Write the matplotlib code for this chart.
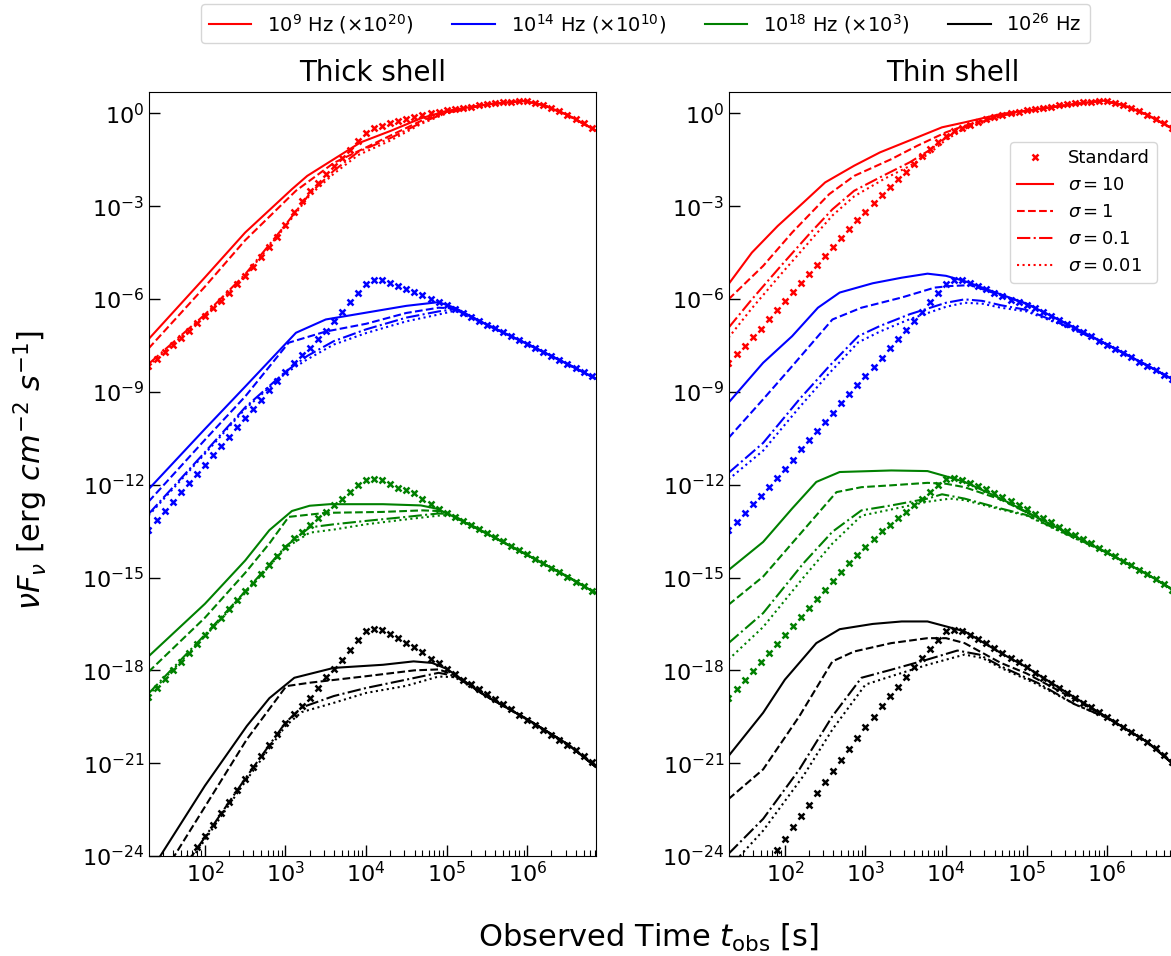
import numpy as np
import matplotlib
matplotlib.use("Agg")
import matplotlib.pyplot as plt
from matplotlib.lines import Line2D
from matplotlib.ticker import NullLocator, LogLocator

# ---------------- data (log10 values) ----------------
# time grid of the "Standard" simulation outputs (log10 t [s])
T_STD = [1.3, 1.4, 1.5, 1.6, 1.7, 1.8, 1.9, 2.0, 2.1, 2.2,
         2.3, 2.4, 2.5, 2.6, 2.7, 2.8, 2.9, 3.0, 3.1, 3.2,
         3.3, 3.4, 3.5, 3.6, 3.7, 3.8, 3.9, 4.0, 4.1, 4.2,
         4.3, 4.4, 4.5, 4.6, 4.7, 4.8, 4.9, 5.0, 5.1, 5.2,
         5.3, 5.4, 5.5, 5.6, 5.7, 5.8, 5.9, 6.0, 6.1, 6.2,
         6.3, 6.4, 6.5, 6.6, 6.7, 6.8]

# ---- Thick shell, standard (log10 nuFnu, scaled) ----
thick_red_std = [-8.15, -7.93, -7.70, -7.48, -7.26, -7.02, -6.78, -6.54, -6.30, -6.05,
                 -5.79, -5.52, -5.24, -4.95, -4.65, -4.33, -3.98, -3.60, -3.18, -2.82,
                 -2.52, -2.24, -1.96, -1.70, -1.45, -1.18, -0.90, -0.62, -0.48, -0.40,
                 -0.32, -0.24, -0.18, -0.12, -0.06, 0.00, 0.05, 0.10, 0.14, 0.18,
                 0.22, 0.26, 0.30, 0.33, 0.36, 0.38, 0.40, 0.39, 0.34, 0.27,
                 0.18, 0.07, -0.05, -0.18, -0.32, -0.48]
thick_blue_std = [-13.45, -13.15, -12.85, -12.55, -12.25, -11.95, -11.65, -11.35, -11.05, -10.75,
                  -10.45, -10.15, -9.85, -9.55, -9.25, -8.95, -8.65, -8.35, -8.08, -7.82,
                  -7.58, -7.30, -7.02, -6.70, -6.42, -6.08, -5.80, -5.50, -5.40, -5.40,
                  -5.48, -5.58, -5.68, -5.76, -5.87, -6.00, -6.08, -6.20, -6.32, -6.45,
                  -6.58, -6.70, -6.83, -6.95, -7.08, -7.20, -7.33, -7.45, -7.58, -7.71,
                  -7.84, -7.97, -8.10, -8.23, -8.36, -8.50]
thick_green_std = [-18.85, -18.57, -18.29, -18.00, -17.72, -17.44, -17.15, -16.87, -16.58, -16.30,
                   -16.02, -15.73, -15.45, -15.17, -14.88, -14.60, -14.30, -14.00, -13.73, -13.52,
                   -13.31, -13.09, -12.88, -12.67, -12.45, -12.24, -12.02, -11.86, -11.81, -11.86,
                   -11.97, -12.10, -12.18, -12.27, -12.45, -12.61, -12.77, -12.90, -13.03, -13.16,
                   -13.29, -13.42, -13.55, -13.69, -13.83, -13.97, -14.11, -14.25, -14.39, -14.53,
                   -14.68, -14.82, -14.97, -15.13, -15.29, -15.45]
thick_black_std = [-26.0, -25.6, -25.2, -24.8, -24.4, -24.05, -23.7, -23.35, -23.0, -22.62,
                   -22.25, -21.88, -21.5, -21.13, -20.77, -20.41, -20.05, -19.7, -19.4, -19.16,
                   -18.9, -18.56, -18.22, -17.95, -17.65, -17.34, -17.02, -16.74, -16.66, -16.69,
                   -16.83, -16.96, -17.1, -17.23, -17.42, -17.62, -17.76, -17.95, -18.12, -18.3,
                   -18.45, -18.6, -18.75, -18.92, -19.09, -19.26, -19.43, -19.6, -19.76, -19.92,
                   -20.08, -20.24, -20.4, -20.58, -20.76, -20.95]

# ---- Thin shell, standard ----
thin_red_std = [-8.06, -7.79, -7.52, -7.22, -6.96, -6.66, -6.35, -6.06, -5.77, -5.49,
                -5.20, -4.90, -4.61, -4.31, -4.02, -3.74, -3.45, -3.18, -2.90, -2.64,
                -2.37, -2.13, -1.88, -1.64, -1.39, -1.15, -0.94, -0.72, -0.58, -0.46,
                -0.36, -0.27, -0.19, -0.12, -0.05, 0.01, 0.06, 0.10, 0.14, 0.18,
                0.22, 0.26, 0.30, 0.33, 0.36, 0.38, 0.40, 0.39, 0.34, 0.27,
                0.18, 0.07, -0.05, -0.18, -0.32, -0.48]
thin_blue_std = [-13.47, -13.20, -12.93, -12.63, -12.36, -12.08, -11.77, -11.49, -11.20, -10.86,
                 -10.57, -10.27, -9.98, -9.68, -9.37, -9.08, -8.79, -8.49, -8.19, -7.90,
                 -7.59, -7.30, -7.00, -6.70, -6.41, -6.09, -5.79, -5.51, -5.38, -5.39,
                 -5.47, -5.58, -5.69, -5.79, -5.90, -6.02, -6.10, -6.18, -6.30, -6.43,
                 -6.56, -6.69, -6.82, -6.95, -7.08, -7.21, -7.34, -7.47, -7.60, -7.74,
                 -7.88, -8.02, -8.16, -8.30, -8.45, -8.60]
thin_green_std = [-18.89, -18.60, -18.30, -18.01, -17.73, -17.44, -17.16, -16.87, -16.58, -16.29,
                  -15.98, -15.70, -15.40, -15.11, -14.82, -14.54, -14.27, -14.01, -13.74, -13.50,
                  -13.31, -13.09, -12.88, -12.67, -12.45, -12.24, -12.02, -11.83, -11.79, -11.84,
                  -11.94, -12.05, -12.15, -12.26, -12.40, -12.53, -12.66, -12.80, -12.94, -13.08,
                  -13.22, -13.36, -13.50, -13.64, -13.77, -13.90, -14.03, -14.16, -14.30, -14.45,
                  -14.60, -14.75, -14.90, -15.05, -15.22, -15.40]
thin_black_std = [-26.0, -25.6, -25.2, -24.85, -24.5, -24.18, -23.82, -23.45, -23.07, -22.7,
                  -22.35, -21.98, -21.6, -21.25, -20.89, -20.53, -20.19, -19.83, -19.5, -19.16,
                  -18.83, -18.53, -18.22, -17.89, -17.6, -17.3, -17.01, -16.72, -16.69, -16.74,
                  -16.85, -16.98, -17.12, -17.28, -17.45, -17.6, -17.74, -17.9, -18.07, -18.24,
                  -18.4, -18.56, -18.72, -18.88, -19.04, -19.2, -19.36, -19.52, -19.67, -19.82,
                  -19.98, -20.14, -20.32, -20.52, -20.72, -20.95]

# ---- Thick shell, magnetized runs: (log10 t, log10 nuFnu) ----
thick_red_s10 = [(1.3, -7.3), (2.0, -5.3), (2.5, -3.85), (3.08, -2.45), (3.27, -2.02), (3.6, -1.48),
                 (3.93, -0.94), (4.31, -0.56), (4.68, -0.16), (5.0, 0.08), (5.5, 0.29), (5.95, 0.40),
                 (6.2, 0.27), (6.5, -0.05), (6.85, -0.55)]
thick_red_s1 = [(1.3, -7.6), (2.0, -5.6), (2.5, -4.1), (3.13, -2.5), (3.6, -1.6), (4.0, -1.1),
                (4.3, -0.72), (4.7, -0.22), (5.0, 0.05), (5.5, 0.29), (5.95, 0.40), (6.2, 0.27),
                (6.5, -0.05), (6.85, -0.55)]
thick_red_s01 = [(1.3, -8.1), (2.0, -6.5), (2.5, -5.2), (3.0, -3.6), (3.3, -2.6), (3.6, -1.85),
                 (3.9, -1.25), (4.3, -0.8), (4.7, -0.28), (5.0, 0.02), (5.5, 0.29), (5.95, 0.40),
                 (6.2, 0.27), (6.5, -0.05), (6.85, -0.55)]
thick_red_s001 = [(1.3, -8.15), (2.0, -6.55), (2.5, -5.25), (3.0, -3.65), (3.3, -2.65), (3.6, -1.95),
                  (3.9, -1.35), (4.3, -0.88), (4.7, -0.32), (5.0, 0.0), (5.5, 0.29), (5.95, 0.40),
                  (6.2, 0.27), (6.5, -0.05), (6.85, -0.55)]

thick_blue_s10 = [(1.3, -12.15), (2.0, -10.2), (2.5, -8.83), (3.13, -7.09), (3.5, -6.66), (4.0, -6.44),
                  (4.5, -6.22), (4.9, -6.1), (5.1, -6.28), (5.5, -6.83), (6.0, -7.45), (6.5, -8.1),
                  (6.85, -8.57)]
thick_blue_s1 = [(1.3, -12.55), (2.0, -10.55), (2.5, -9.15), (3.04, -7.41), (3.5, -7.05), (4.0, -6.8),
                 (4.5, -6.45), (4.9, -6.28), (5.1, -6.3), (5.5, -6.83), (6.0, -7.45), (6.5, -8.1),
                 (6.85, -8.57)]
thick_blue_s01 = [(1.3, -12.95), (2.0, -10.95), (2.5, -9.5), (3.0, -8.35), (3.27, -7.84), (3.6, -7.36),
                  (4.0, -6.98), (4.5, -6.6), (4.9, -6.4), (5.1, -6.33), (5.5, -6.83), (6.0, -7.45),
                  (6.5, -8.1), (6.85, -8.57)]
thick_blue_s001 = [(1.3, -13.0), (2.0, -11.0), (2.5, -9.55), (3.0, -8.4), (3.27, -7.95), (3.6, -7.47),
                   (4.0, -7.1), (4.5, -6.72), (4.9, -6.5), (5.1, -6.38), (5.5, -6.83), (6.0, -7.45),
                   (6.5, -8.1), (6.85, -8.57)]

thick_green_s10 = [(1.3, -17.55), (2.0, -15.85), (2.5, -14.45), (2.8, -13.47), (3.08, -12.85),
                   (3.3, -12.68), (3.55, -12.63), (4.21, -12.63), (4.68, -12.67), (4.87, -12.77),
                   (5.0, -12.92), (5.5, -13.58), (6.0, -14.27), (6.5, -14.97), (6.85, -15.5)]
thick_green_s1 = [(1.3, -18.05), (2.0, -16.3), (2.5, -14.85), (2.8, -13.9), (3.04, -13.04), (3.5, -12.91),
                  (4.2, -12.88), (4.7, -12.83), (4.9, -12.85), (5.0, -12.92), (5.5, -13.58),
                  (6.0, -14.27), (6.5, -14.97), (6.85, -15.5)]
thick_green_s01 = [(1.3, -18.75), (2.0, -16.85), (2.5, -15.45), (3.0, -14.0), (3.3, -13.38), (3.6, -13.28),
                   (4.0, -13.17), (4.5, -13.04), (4.9, -12.93), (5.05, -12.95), (5.5, -13.58),
                   (6.0, -14.27), (6.5, -14.97), (6.85, -15.5)]
thick_green_s001 = [(1.3, -18.8), (2.0, -16.9), (2.5, -15.5), (3.0, -14.05), (3.3, -13.55), (3.6, -13.45),
                    (4.0, -13.28), (4.5, -13.12), (4.9, -13.0), (5.05, -12.97), (5.5, -13.58),
                    (6.0, -14.27), (6.5, -14.97), (6.85, -15.5)]

thick_black_s10 = [(1.3, -24.6), (2.0, -21.73), (2.52, -19.8), (2.8, -18.9), (3.11, -18.24), (3.6, -17.92),
                   (4.21, -17.82), (4.59, -17.71), (4.82, -17.76), (5.0, -17.95), (5.5, -18.85),
                   (6.0, -19.58), (6.5, -20.38), (6.85, -21.12)]
thick_black_s1 = [(1.3, -25.34), (2.0, -22.41), (2.52, -20.23), (3.01, -18.51), (3.3, -18.4), (4.0, -18.19),
                  (4.6, -18.0), (4.9, -17.97), (5.1, -18.15), (5.5, -18.85), (6.0, -19.58),
                  (6.5, -20.38), (6.85, -21.12)]
thick_black_s01 = [(1.3, -26.0), (1.9, -23.77), (2.5, -21.5), (3.0, -19.69), (3.2, -19.2), (3.6, -18.83),
                   (4.0, -18.57), (4.5, -18.3), (4.9, -18.08), (5.1, -18.18), (5.5, -18.85),
                   (6.0, -19.58), (6.5, -20.38), (6.85, -21.12)]
thick_black_s001 = [(1.3, -26.1), (1.9, -23.85), (2.5, -21.6), (3.0, -19.8), (3.2, -19.35), (3.6, -19.05),
                    (4.0, -18.73), (4.5, -18.5), (4.9, -18.2), (5.1, -18.22), (5.5, -18.85),
                    (6.0, -19.58), (6.5, -20.38), (6.85, -21.12)]

# ---- Thin shell, magnetized runs ----
thin_red_s10 = [(1.3, -5.52), (1.59, -4.5), (1.91, -3.64), (2.23, -2.88), (2.5, -2.23), (2.86, -1.69),
                (3.18, -1.26), (3.59, -0.83), (3.95, -0.45), (4.23, -0.29), (4.68, -0.02), (5.14, 0.14),
                (5.59, 0.30), (5.95, 0.41), (6.2, 0.27), (6.5, -0.05), (6.85, -0.55)]
thin_red_s1 = [(1.3, -6.01), (1.73, -4.93), (2.09, -3.85), (2.55, -2.61), (2.86, -2.02), (3.32, -1.48),
               (3.64, -1.05), (4.0, -0.61), (4.23, -0.4), (4.45, -0.24), (4.7, -0.05), (5.14, 0.14),
               (5.59, 0.30), (5.95, 0.41), (6.2, 0.27), (6.5, -0.05), (6.85, -0.55)]
thin_red_s01 = [(1.3, -6.93), (1.59, -6.01), (1.95, -4.93), (2.32, -3.85), (2.59, -3.1), (2.86, -2.5),
                (3.23, -2.0), (3.55, -1.58), (3.8, -1.18), (4.0, -0.78), (4.23, -0.45), (4.68, -0.08),
                (5.14, 0.14), (5.59, 0.30), (5.95, 0.41), (6.2, 0.27), (6.5, -0.05), (6.85, -0.55)]
thin_red_s001 = [(1.3, -7.25), (1.59, -6.3), (1.95, -5.2), (2.32, -4.1), (2.59, -3.3), (2.86, -2.68),
                 (3.23, -2.12), (3.55, -1.7), (3.8, -1.28), (4.0, -0.85), (4.23, -0.5), (4.68, -0.1),
                 (5.14, 0.13), (5.59, 0.30), (5.95, 0.41), (6.2, 0.27), (6.5, -0.05), (6.85, -0.55)]

thin_blue_s10 = [(1.3, -9.35), (1.73, -8.06), (2.09, -7.2), (2.41, -6.28), (2.68, -5.79), (3.09, -5.49),
                 (3.45, -5.31), (3.77, -5.18), (4.0, -5.25), (4.23, -5.42), (4.68, -5.85), (5.0, -6.15),
                 (5.5, -6.8), (6.0, -7.47), (6.5, -8.15), (6.85, -8.65)]
thin_blue_s1 = [(1.3, -10.49), (1.73, -9.24), (2.09, -8.17), (2.59, -6.66), (2.95, -6.28), (3.45, -5.95),
                (3.86, -5.63), (4.05, -5.58), (4.3, -5.55), (4.68, -5.88), (5.0, -6.15), (5.5, -6.8),
                (6.0, -7.47), (6.5, -8.15), (6.85, -8.65)]
thin_blue_s01 = [(1.3, -11.62), (1.73, -10.65), (2.18, -9.24), (2.55, -8.17), (2.91, -7.2), (3.18, -6.87),
                 (3.55, -6.49), (4.0, -6.12), (4.23, -6.01), (4.45, -6.06), (4.68, -6.2), (5.0, -6.35),
                 (5.5, -6.88), (6.0, -7.47), (6.5, -8.15), (6.85, -8.65)]
thin_blue_s001 = [(1.3, -11.83), (1.73, -10.9), (2.18, -9.5), (2.55, -8.4), (2.91, -7.4), (3.18, -7.05),
                  (3.55, -6.65), (4.0, -6.25), (4.23, -6.12), (4.45, -6.15), (4.68, -6.28), (5.0, -6.4),
                  (5.5, -6.9), (6.0, -7.47), (6.5, -8.15), (6.85, -8.65)]

thin_green_s10 = [(1.3, -14.76), (1.73, -13.85), (2.09, -12.77), (2.39, -11.91), (2.68, -11.59),
                  (3.32, -11.54), (3.77, -11.56), (4.0, -11.73), (4.23, -11.91), (4.68, -12.45),
                  (5.0, -12.88), (5.5, -13.55), (6.0, -14.2), (6.5, -14.9), (6.85, -15.45)]
thin_green_s1 = [(1.3, -15.88), (1.73, -14.97), (2.23, -13.47), (2.64, -12.24), (2.95, -12.08),
                 (3.32, -12.02), (3.77, -11.94), (4.0, -11.97), (4.23, -12.08), (4.68, -12.48),
                 (5.0, -12.9), (5.5, -13.55), (6.0, -14.2), (6.5, -14.9), (6.85, -15.45)]
thin_green_s01 = [(1.3, -17.12), (1.73, -16.15), (2.23, -14.54), (2.59, -13.52), (2.95, -12.83),
                  (3.32, -12.67), (3.77, -12.45), (3.95, -12.31), (4.23, -12.45), (4.68, -12.77),
                  (5.0, -12.98), (5.5, -13.6), (6.0, -14.2), (6.5, -14.9), (6.85, -15.45)]
thin_green_s001 = [(1.3, -17.65), (1.73, -16.6), (2.23, -15.0), (2.59, -13.9), (2.95, -13.0),
                   (3.32, -12.8), (3.77, -12.55), (4.05, -12.45), (4.23, -12.5), (4.68, -12.8),
                   (5.0, -13.0), (5.5, -13.62), (6.0, -14.2), (6.5, -14.9), (6.85, -15.45)]

thin_black_s10 = [(1.3, -20.77), (1.73, -19.37), (2.0, -18.3), (2.39, -17.12), (2.68, -16.67),
                  (3.09, -16.5), (3.45, -16.42), (3.77, -16.42), (4.0, -16.58), (4.23, -16.74),
                  (4.68, -17.44), (5.0, -17.9), (5.5, -18.72), (6.0, -19.52), (6.5, -20.32), (6.85, -21.1)]
thin_black_s1 = [(1.3, -22.16), (1.73, -21.2), (2.18, -19.48), (2.59, -17.71), (2.86, -17.39),
                 (3.32, -17.12), (3.77, -16.96), (4.0, -16.96), (4.23, -17.12), (4.68, -17.76),
                 (5.0, -18.1), (5.5, -18.8), (6.0, -19.52), (6.5, -20.32), (6.85, -21.1)]
thin_black_s01 = [(1.3, -23.93), (1.73, -22.8), (2.18, -21.2), (2.59, -19.48), (2.95, -18.24),
                  (3.32, -17.98), (3.77, -17.65), (4.14, -17.36), (4.41, -17.49), (4.68, -17.87),
                  (5.14, -18.41), (5.6, -19.1), (6.0, -19.54), (6.5, -20.32), (6.85, -21.1)]
thin_black_s001 = [(1.3, -24.4), (1.73, -23.18), (2.23, -21.41), (2.59, -19.91), (3.0, -18.46),
                   (3.32, -18.19), (3.77, -17.82), (4.23, -17.49), (4.45, -17.6), (4.68, -17.92),
                   (5.14, -18.46), (5.6, -19.1), (6.0, -19.54), (6.5, -20.32), (6.85, -21.1)]

BANDS = ["red", "blue", "green", "black"]
BAND_LABELS = [r"$10^9$ Hz ($\times10^{20}$)", r"$10^{14}$ Hz ($\times10^{10}$)",
               r"$10^{18}$ Hz ($\times10^{3}$)", r"$10^{26}$ Hz"]
SIGMA_LABELS = [r"$\sigma = 10$", r"$\sigma = 1$", r"$\sigma = 0.1$", r"$\sigma = 0.01$"]
SIGMA_STYLES = ["-", "--", "-.", ":"]
PANEL_TITLES = ["Thick shell", "Thin shell"]

panels = [
    {"std": [thick_red_std, thick_blue_std, thick_green_std, thick_black_std],
     "runs": [[thick_red_s10, thick_red_s1, thick_red_s01, thick_red_s001],
              [thick_blue_s10, thick_blue_s1, thick_blue_s01, thick_blue_s001],
              [thick_green_s10, thick_green_s1, thick_green_s01, thick_green_s001],
              [thick_black_s10, thick_black_s1, thick_black_s01, thick_black_s001]]},
    {"std": [thin_red_std, thin_blue_std, thin_green_std, thin_black_std],
     "runs": [[thin_red_s10, thin_red_s1, thin_red_s01, thin_red_s001],
              [thin_blue_s10, thin_blue_s1, thin_blue_s01, thin_blue_s001],
              [thin_green_s10, thin_green_s1, thin_green_s01, thin_green_s001],
              [thin_black_s10, thin_black_s1, thin_black_s01, thin_black_s001]]},
]

# ---------------- figure ----------------
fig = plt.figure(figsize=(11.71, 9.56), dpi=100)
axes = [fig.add_axes([0.1275, 0.1046, 0.3812, 0.7988]),
        fig.add_axes([0.6228, 0.1046, 0.3812, 0.7988])]

t_std = 10.0 ** np.array(T_STD)
for ax, panel, title in zip(axes, panels, PANEL_TITLES):
    for b, color in enumerate(BANDS):
        for s, ls in enumerate(SIGMA_STYLES):
            arr = np.array(panel["runs"][b][s])
            ax.plot(10.0 ** arr[:, 0], 10.0 ** arr[:, 1], color=color, ls=ls, lw=1.5)
        ax.plot(t_std, 10.0 ** np.array(panel["std"][b]), ls="none", marker="x",
                ms=5, mew=1.8, color=color)
    ax.set_xscale("log")
    ax.set_yscale("log")
    ax.set_xlim(10 ** 1.31, 10 ** 6.85)
    ax.set_ylim(1e-24, 10 ** 0.68)
    ax.set_yticks([10.0 ** k for k in range(0, -25, -3)])
    ax.yaxis.set_minor_locator(NullLocator())
    ax.xaxis.set_major_locator(LogLocator(base=10, numticks=20))
    ax.xaxis.set_minor_locator(LogLocator(base=10, subs=np.arange(2, 10), numticks=20))
    ax.tick_params(which="both", direction="in", top=False, right=False, labelsize=16)
    ax.tick_params(which="major", length=8, width=1.0)
    ax.tick_params(which="minor", length=4, width=0.8)
    ax.set_title(title, fontsize=20, pad=8)

# legend inside thin shell panel
h = [Line2D([], [], ls="none", marker="x", ms=5, mew=1.8, color="red")]
h += [Line2D([], [], ls=ls, color="red", lw=1.5) for ls in SIGMA_STYLES]
axes[1].legend(h, ["Standard"] + SIGMA_LABELS, loc="upper right",
               bbox_to_anchor=(0.958, 0.935), borderaxespad=0, fontsize=13,
               numpoints=1)

# top legend for frequencies
fh = [Line2D([], [], color=c, lw=1.5) for c in BANDS]
fig.legend(fh, BAND_LABELS, loc="upper center", bbox_to_anchor=(0.551, 0.998),
           borderaxespad=0.1, ncol=4, fontsize=14, handlelength=2.2, columnspacing=2.0)

fig.text(0.554, 0.019, r"Observed Time $t_{\rm obs}$ [s]", ha="center", va="center", fontsize=22)
fig.text(0.026, 0.508, r"$\nu F_{\nu}$ [erg $cm^{-2}$ $s^{-1}$]", ha="center", va="center",
         rotation=90, fontsize=22)

fig.savefig("out.png", dpi=100)
